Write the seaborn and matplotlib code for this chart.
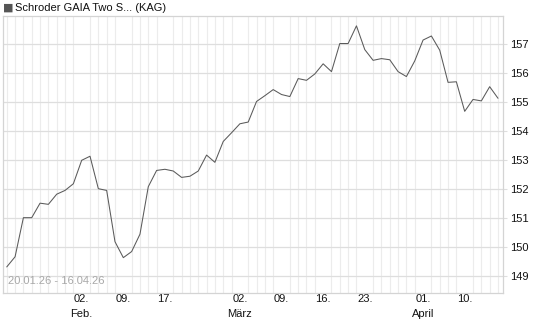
import numpy as np
import pandas as pd
import matplotlib
matplotlib.use("Agg")
import matplotlib.pyplot as plt
import seaborn as sns

dates = (["20.01", "21.01", "22.01", "23.01", "26.01", "27.01", "28.01", "29.01", "30.01"]
         + ["02.02", "03.02", "04.02", "05.02", "06.02", "09.02", "10.02", "11.02", "12.02", "13.02",
            "17.02", "18.02", "19.02", "20.02", "23.02", "24.02", "25.02", "26.02", "27.02"]
         + ["02.03", "03.03", "04.03", "05.03", "06.03", "09.03", "10.03", "11.03", "12.03", "13.03",
            "16.03", "17.03", "18.03", "19.03", "20.03", "23.03", "24.03", "25.03", "26.03", "27.03",
            "30.03", "31.03"]
         + ["01.04", "02.04", "07.04", "08.04", "09.04", "10.04", "13.04", "14.04", "15.04", "16.04"])

values = [149.31, 149.66, 151.01, 151.01, 151.51, 151.47, 151.82, 151.95, 152.18, 152.99,
          153.13, 152.01, 151.95, 150.18, 149.63, 149.84, 150.44, 152.08, 152.64, 152.68,
          152.62, 152.40, 152.44, 152.62, 153.17, 152.92, 153.64, 153.94, 154.25, 154.31,
          155.02, 155.22, 155.43, 155.26, 155.19, 155.81, 155.75, 155.97, 156.32, 156.05,
          157.02, 157.02, 157.63, 156.81, 156.44, 156.50, 156.46, 156.05, 155.88, 156.42,
          157.14, 157.28, 156.79, 155.68, 155.70, 154.68, 155.09, 155.04, 155.53, 155.13]

tick_dates = ["02.02", "09.02", "17.02", "02.03", "09.03", "16.03", "23.03", "01.04", "10.04"]
tick_labels = ["02.\nFeb.", "09.", "17.", "02.\nMärz", "09.", "16.", "23.", "01.\nApril", "10."]
y_ticks = [149, 150, 151, 152, 153, 154, 155, 156, 157]

title = "Schroder GAIA Two S... (KAG)"
range_text = "20.01.26 - 16.04.26"

sns.set_style("white")
plt.rcParams["font.family"] = ["Liberation Sans", "DejaVu Sans"]

df = pd.DataFrame({"idx": np.arange(len(values)), "value": values})

fig = plt.figure(figsize=(5.45, 3.27), dpi=100)
ax = fig.add_axes([3 / 545, 1 - 293 / 327, 500 / 545, 277 / 327])

sns.lineplot(data=df, x="idx", y="value", ax=ax, color="#5a5a5a", linewidth=0.75)

ax.set_xlim(-0.45, len(values) - 1 + 0.6)
ax.set_ylim(148.41, 157.97)

# grid
ax.set_xticks(np.arange(len(values)), minor=True)
ax.grid(which="minor", axis="x", color="#ececec", linewidth=0.8)
ax.set_yticks(y_ticks)
ax.grid(which="major", axis="y", color="#dedede", linewidth=0.9)
ax.set_axisbelow(True)

tick_pos = [dates.index(d) for d in tick_dates]
ax.set_xticks(tick_pos)
ax.set_xticklabels(tick_labels, fontsize=8, color="#111111", linespacing=1.55)
ax.tick_params(axis="x", which="both", length=0, pad=1)

ax.yaxis.tick_right()
ax.set_yticklabels([str(t) for t in y_ticks], fontsize=8, color="#111111")
ax.tick_params(axis="y", length=3, color="#dedede", pad=2)

for s in ax.spines.values():
    s.set_color("#d4d4d4")
    s.set_linewidth(0.9)

ax.set_xlabel("")
ax.set_ylabel("")

ax.text(0.01, 0.025, range_text, transform=ax.transAxes, fontsize=8,
        color="#a8a8a8", ha="left", va="bottom")

fig.text(3 / 545, 1 - 8 / 327, "\u25a0", fontsize=8, color="#555555",
         ha="left", va="center", family=["DejaVu Sans"])
fig.text(15 / 545, 1 - 8 / 327, title, fontsize=8, color="#111111",
         ha="left", va="center")

fig.savefig("out.png", dpi=100)
